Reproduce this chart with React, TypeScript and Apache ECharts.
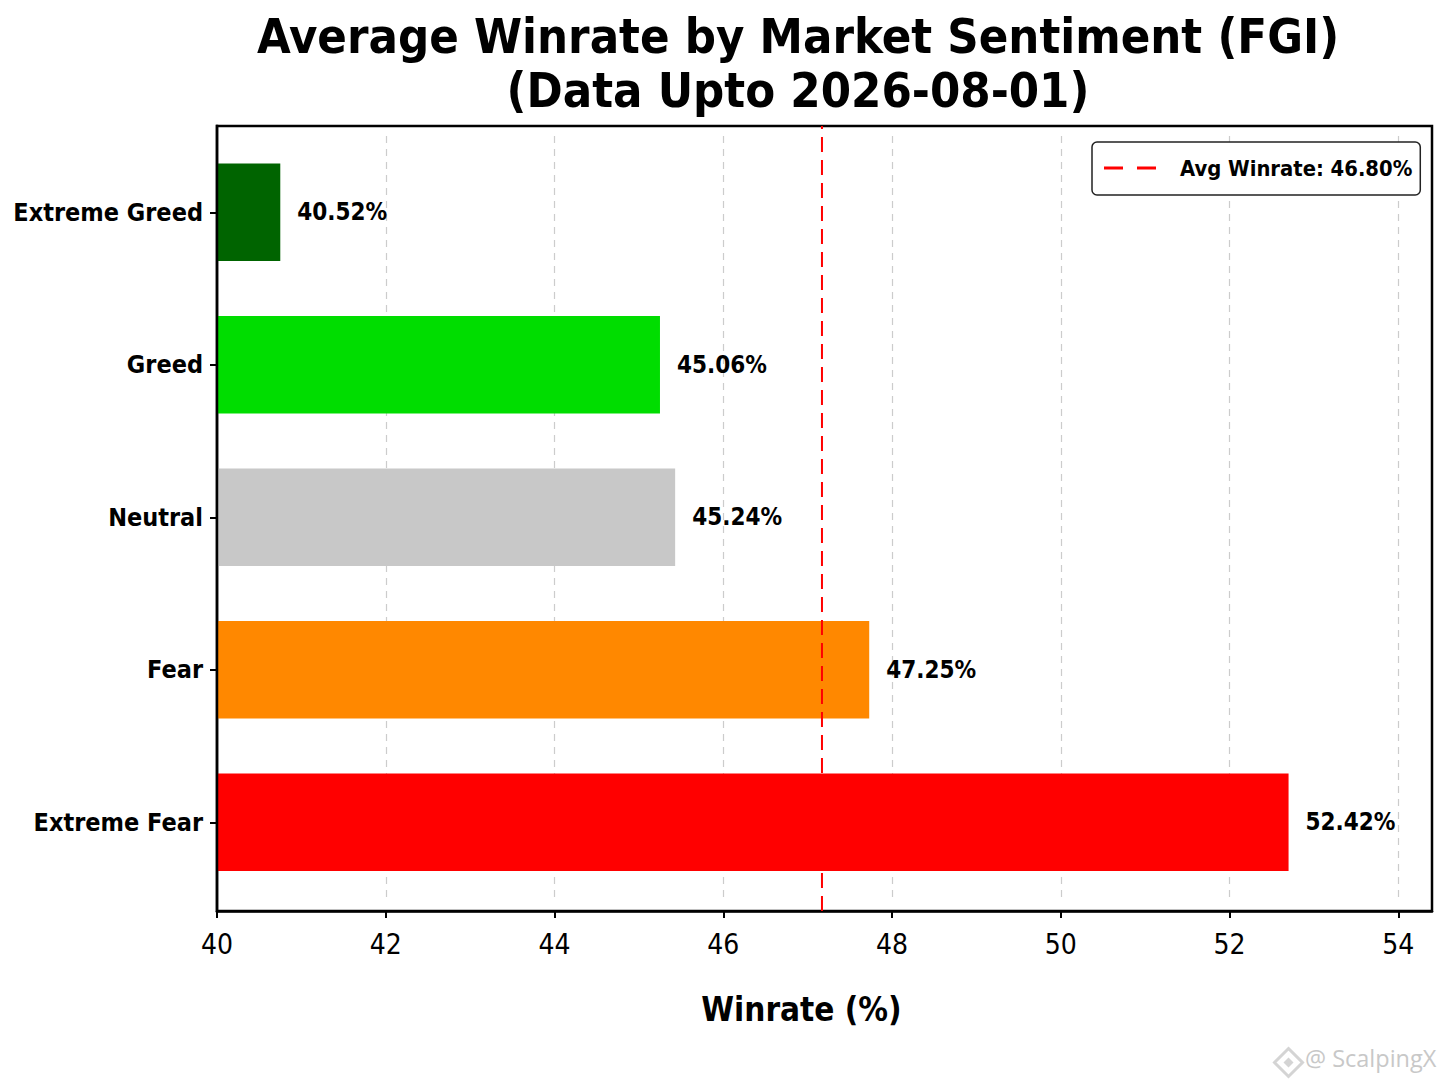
import React, { useEffect, useRef } from 'react';
import * as echarts from 'echarts';

const categories = ['Extreme Fear', 'Fear', 'Neutral', 'Greed', 'Extreme Greed'];
const winrates = [52.7, 47.73, 45.43, 45.25, 40.75];
const winrateLabels = ['52.42%', '47.25%', '45.24%', '45.06%', '40.52%'];
const barColors = ['#ff0000', '#ff8800', '#c8c8c8', '#00dd00', '#006400'];
const avgWinrate = 47.17;
const avgLabel = 'Avg Winrate: 46.80%';
const xTicks = [40, 42, 44, 46, 48, 50, 52, 54];
const titleText = 'Average Winrate by Market Sentiment (FGI)\n(Data Upto 2026-08-01)';
const xAxisName = 'Winrate (%)';
const watermark = '@ ScalpingX';

const F = '"DejaVu Sans Condensed", "DejaVu Sans", sans-serif';

export default function App() {
  const ref = useRef<HTMLDivElement>(null);
  useEffect(() => {
    const chart = echarts.init(ref.current!, null, { renderer: 'svg' });
    chart.setOption({
      animation: false,
      backgroundColor: '#ffffff',
      title: {
        text: titleText,
        left: 793,
        top: 4,
        textAlign: 'center',
        textStyle: { fontFamily: F, fontWeight: 'bold', fontSize: 48.5, lineHeight: 54, color: '#000' },
      },
      legend: {
        data: [{ name: avgLabel, icon: 'path://M0,0h19v3h-19z M33,0h19v3h-19z' }],
        left: 1092,
        top: 142,
        itemWidth: 52,
        itemHeight: 3,
        padding: [15, 8, 16, 12],
        borderColor: '#222',
        borderWidth: 1.5,
        borderRadius: 5,
        backgroundColor: '#fff',
        selectedMode: false,
        z: 12,
        textStyle: { fontFamily: F, fontWeight: 'bold', fontSize: 21.8, color: '#000', padding: [0, 0, 0, 19] },
      },
      grid: [
        { left: 217, top: 136, width: 1215, height: 762.5 },
        { left: 217, top: 126, width: 1215, height: 785, show: true, borderColor: '#000', borderWidth: 2.5, backgroundColor: 'transparent' },
      ],
      xAxis: [
        {
          gridIndex: 0,
          type: 'value',
          min: 40,
          max: 54.4,
          interval: 2,
          z: 0,
          axisLine: { show: false },
          axisTick: { show: false },
          axisLabel: { show: false },
          splitLine: { show: true, showMinLine: false, showMaxLine: false, lineStyle: { color: '#cccccc', type: [7, 6], width: 1.2 } },
        },
        {
          gridIndex: 1,
          type: 'value',
          min: 40,
          max: 54.4,
          interval: 2,
          axisLine: { show: true, lineStyle: { color: '#000', width: 2.5 } },
          axisTick: { show: true, length: 7, lineStyle: { color: '#000', width: 2 }, customValues: xTicks },
          axisLabel: { customValues: xTicks, margin: 19, fontFamily: F, fontSize: 28, color: '#000' },
          splitLine: { show: false },
          name: xAxisName,
          nameLocation: 'middle',
          nameGap: 82,
          nameTextStyle: { fontFamily: F, fontWeight: 'bold', fontSize: 33, color: '#000', padding: [0, 46, 0, 0] },
        },
      ],
      yAxis: [
        {
          gridIndex: 0,
          type: 'category',
          data: categories,
          axisLine: { show: false },
          axisTick: { show: true, length: 7, alignWithLabel: true, lineStyle: { color: '#000', width: 2 } },
          axisLabel: { margin: 14, fontFamily: F, fontWeight: 'bold', fontSize: 25, color: '#000' },
          splitLine: { show: false },
        },
        { gridIndex: 1, type: 'value', min: 0, max: 1, show: false },
      ],
      series: [
        {
          type: 'bar',
          name: 'Winrate',
          xAxisIndex: 0,
          yAxisIndex: 0,
          z: 4,
          barWidth: '64%',
          data: winrates.map((v, i) => ({ value: v, itemStyle: { color: barColors[i] } })),
          label: {
            show: true,
            position: 'right',
            distance: 17,
            formatter: (p: any) => winrateLabels[p.dataIndex],
            fontFamily: F,
            fontWeight: 'bold',
            fontSize: 24,
            color: '#000',
          },
        },
        {
          type: 'line',
          name: avgLabel,
          xAxisIndex: 1,
          yAxisIndex: 1,
          data: [[avgWinrate, 0], [avgWinrate, 1]],
          symbol: 'none',
          lineStyle: { color: '#ff0000', width: 2, type: [15, 8] },
          itemStyle: { color: '#ff0000' },
          z: 5,
        },
      ],
      graphic: [
        {
          type: 'line',
          z: 20,
          shape: { x1: 217, y1: 124.75, x2: 217, y2: 912.25 },
          style: { stroke: '#000', lineWidth: 2.5 },
        },
        {
          type: 'group',
          left: 1272,
          top: 1046,
          children: [
            { type: 'polygon', shape: { points: [[14, 0], [28, 14], [14, 28], [0, 14]] }, style: { fill: 'none', stroke: '#d4d4d4', lineWidth: 3 } },
            { type: 'polygon', shape: { points: [[14, 9], [19, 14], [14, 19], [9, 14]] }, style: { fill: '#d4d4d4' } },
          ],
        },
        {
          type: 'text',
          left: 1305,
          top: 1046,
          style: { text: watermark, fill: '#c8c8c8', font: '23.5px "Open Sans", sans-serif' },
        },
      ],
    });
    return () => chart.dispose();
  }, []);
  return <div ref={ref} style={{ position: 'absolute', left: 0, top: 0, width: 1448, height: 1086, background: '#fff' }} />;
}
